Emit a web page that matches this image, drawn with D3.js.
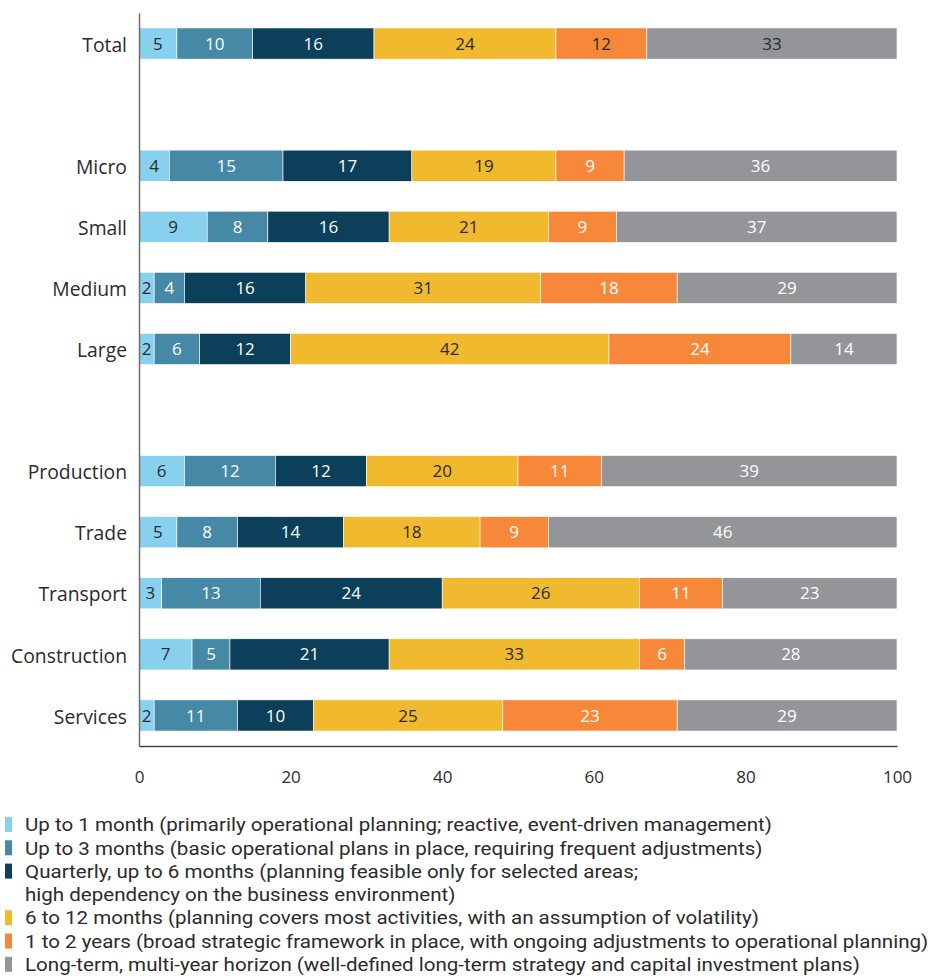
<!DOCTYPE html>
<html><head><meta charset="utf-8">
<script src="https://cdn.jsdelivr.net/npm/d3@7"></script>
<style>body{margin:0;background:#fff;} svg{display:block;}</style>
</head><body>
<script>
const categories = ["Total","", "Micro","Small","Medium","Large"," ","Production","Trade","Transport","Construction","Services"];
const seriesNames = [
  "Up to 1 month (primarily operational planning; reactive, event-driven management)",
  "Up to 3 months (basic operational plans in place, requiring frequent adjustments)",
  "Quarterly, up to 6 months (planning feasible only for selected areas;\nhigh dependency on the business environment)",
  "6 to 12 months (planning covers most activities, with an assumption of volatility)",
  "1 to 2 years (broad strategic framework in place, with ongoing adjustments to operational planning)",
  "Long-term, multi-year horizon (well-defined long-term strategy and capital investment plans)"
];
const upTo1Month   = {Total:5, Micro:4, Small:9, Medium:2, Large:2, Production:6, Trade:5, Transport:3, Construction:7, Services:2};
const upTo3Months  = {Total:10, Micro:15, Small:8, Medium:4, Large:6, Production:12, Trade:8, Transport:13, Construction:5, Services:11};
const quarterly    = {Total:16, Micro:17, Small:16, Medium:16, Large:12, Production:12, Trade:14, Transport:24, Construction:21, Services:10};
const months6to12  = {Total:24, Micro:19, Small:21, Medium:31, Large:42, Production:20, Trade:18, Transport:26, Construction:33, Services:25};
const years1to2    = {Total:12, Micro:9, Small:9, Medium:18, Large:24, Production:11, Trade:9, Transport:11, Construction:6, Services:23};
const longTerm     = {Total:33, Micro:36, Small:37, Medium:29, Large:14, Production:39, Trade:46, Transport:23, Construction:28, Services:29};
const xTicks = [0,20,40,60,80,100];

const series = [upTo1Month, upTo3Months, quarterly, months6to12, years1to2, longTerm];
const colors = ["#87d1ef","#4589a6","#0b3f5a","#f0b92e","#f7883a","#939598"];
const labelColors = ["#2b2b2b","#ffffff","#ffffff","#2b2b2b","#ffffff","#ffffff"];

const W = 931, H = 978;
const svg = d3.select("body").append("svg").attr("width", W).attr("height", H);
const fontMain = "'Open Sans','Inter',sans-serif";

const x = d3.scaleLinear().domain([0,100]).range([139,897]);
const y = d3.scaleBand().domain(categories).range([13,746]).paddingInner(0.49).paddingOuter(0.245);

const realCats = categories.filter(c => c.trim() !== "");
const keys = series.map((_, i) => "s" + i);
const table = realCats.map(c => {
  const o = {cat: c};
  series.forEach((s, i) => o["s" + i] = s[c]);
  return o;
});
const stacked = d3.stack().keys(keys)(table);

const g = svg.append("g");
stacked.forEach((layer, i) => {
  const lg = g.append("g");
  lg.selectAll("rect").data(layer).join("rect")
    .attr("x", d => x(d[0]))
    .attr("y", d => y(d.data.cat))
    .attr("width", d => x(d[1]) - x(d[0]))
    .attr("height", y.bandwidth())
    .attr("fill", colors[i])
    .attr("stroke", "#ffffff").attr("stroke-width", 0.6);
  lg.selectAll("text").data(layer).join("text")
    .attr("x", d => (x(d[0]) + x(d[1])) / 2)
    .attr("y", d => y(d.data.cat) + y.bandwidth() / 2)
    .attr("dy", "0.36em")
    .attr("text-anchor", "middle")
    .attr("font-family", fontMain)
    .attr("font-size", 17)
    .attr("fill", d => (d.data.cat === "Total" && i >= 3) ? "#2b2b2b" : labelColors[i])
    .text(d => d[1] - d[0]);
});

// y axis
const yAxis = svg.append("g").attr("transform", "translate(139,0)")
  .call(d3.axisLeft(y).tickSize(0).tickSizeOuter(0).tickPadding(12)
    .tickFormat(d => d.trim() === "" ? "" : d));
yAxis.select(".domain").attr("stroke", "#6e6e6e").attr("stroke-width", 1.5);
const yLabels = yAxis.selectAll("text").attr("font-family", fontMain).attr("font-size", 17)
  .attr("fill", "#2b2b2b").attr("dy", "0.42em");
// match the wide face of the original: scale so "Construction" is ~116px
let cw = 0;
yLabels.each(function(d){ if (d === "Construction") cw = this.getComputedTextLength(); });
if (cw > 0) yLabels.attr("font-size", 17 * 116 / cw);

// x axis
const xAxis = svg.append("g").attr("transform", "translate(0,746)")
  .call(d3.axisBottom(x).tickValues(xTicks).tickSize(0).tickSizeOuter(0).tickPadding(25));
xAxis.select(".domain").attr("stroke", "#444").attr("stroke-width", 1.5);
xAxis.selectAll("text").attr("font-family", fontMain).attr("font-size", 17).attr("fill", "#2b2b2b");

// legend
const legend = svg.append("g");
const lineH = 23.3;
let row = 0;
const legendItems = [];
seriesNames.forEach((name, i) => {
  const lines = name.split("\n");
  const yy = 825 + row * lineH;
  legend.append("rect").attr("x", 5).attr("y", yy - 8).attr("width", 7).attr("height", 15).attr("fill", colors[i]);
  lines.forEach((ln, j) => {
    const t = legend.append("text")
      .attr("x", 25).attr("y", yy + j * lineH).attr("dy", "0.35em")
      .attr("font-family", "'Roboto','Noto Sans',sans-serif").attr("font-size", 18)
      .attr("fill", "#2b2b2b").text(ln);
    legendItems.push(t);
  });
  row += lines.length;
});
// condense legend text to match the narrow face of the original
const longest = legendItems[5].node().getComputedTextLength();
const k = 904 / longest;
legendItems.forEach(t => {
  t.attr("transform", `translate(25,0) scale(${k},1) translate(-25,0)`);
});
</script>
</body></html>
